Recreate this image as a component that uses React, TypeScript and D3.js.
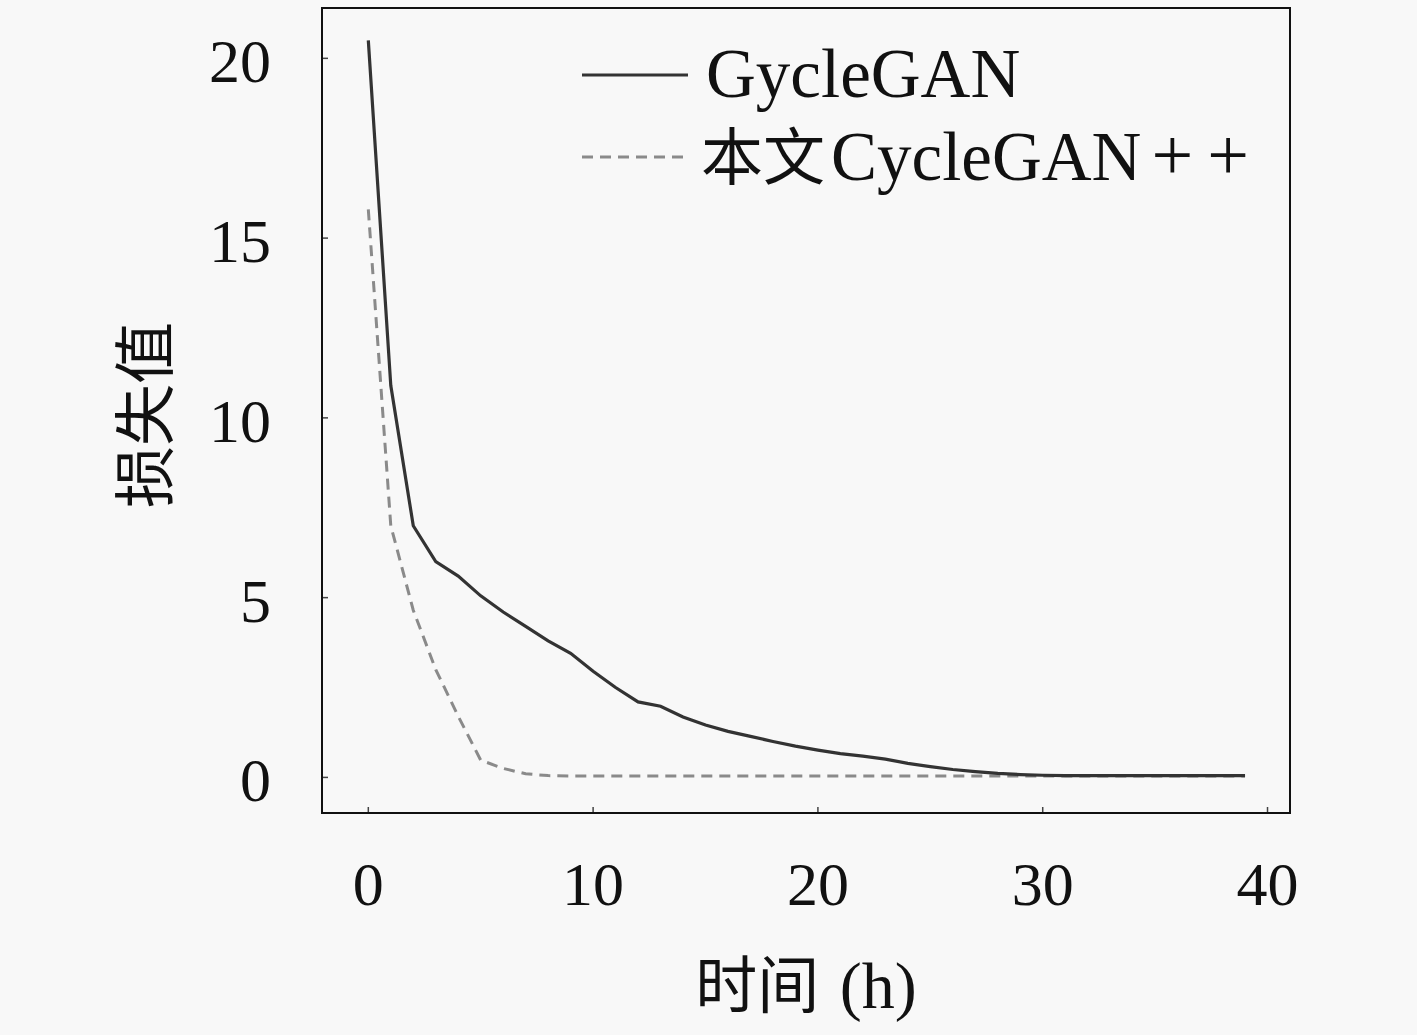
import React, { useEffect, useRef } from 'react';
import * as d3 from 'd3';

// training time (h)
const hours = [
  0, 1, 2, 3, 4, 5, 6, 7, 8, 9, 10, 11, 12, 13, 14, 15, 16, 17, 18, 19,
  20, 21, 22, 23, 24, 25, 26, 27, 28, 29, 30, 31, 32, 33, 34, 35, 36, 37, 38, 39,
];

// loss values
const cycleGanLoss = [
  20.5, 10.9, 7.0, 6.0, 5.6, 5.05, 4.6, 4.2, 3.8, 3.45,
  2.95, 2.5, 2.1, 1.98, 1.68, 1.46, 1.28, 1.14, 1.0, 0.87,
  0.76, 0.66, 0.59, 0.51, 0.39, 0.3, 0.22, 0.16, 0.11, 0.08,
  0.06, 0.05, 0.05, 0.05, 0.05, 0.05, 0.05, 0.05, 0.05, 0.05,
];

const cycleGanPlusLoss = [
  15.8, 7.0, 4.65, 3.0, 1.7, 0.48, 0.25, 0.1, 0.05, 0.04,
  0.04, 0.04, 0.04, 0.04, 0.04, 0.04, 0.04, 0.04, 0.04, 0.04,
  0.04, 0.04, 0.04, 0.04, 0.04, 0.04, 0.04, 0.04, 0.04, 0.04,
  0.04, 0.04, 0.04, 0.04, 0.04, 0.04, 0.04, 0.04, 0.04, 0.04,
];

const xTicks = [0, 10, 20, 30, 40];
const yTicks = [0, 5, 10, 15, 20];

const seriesNames = ['GycleGAN', 'CycleGAN', '++'];

const W = 1417;
const H = 1035;
const SERIF = '"Liberation Serif", "DejaVu Serif", serif';
const CJK = '"Noto Sans CJK SC", sans-serif';

const App: React.FC = () => {
  const svgRef = useRef<SVGSVGElement>(null);

  useEffect(() => {
    if (!svgRef.current) return;
    const svg = d3.select(svgRef.current);
    svg.selectAll('*').remove();

    const plot = { left: 322, right: 1290, top: 8, bottom: 813 };

    const x = d3.scaleLinear().domain([-2.06, 41]).range([plot.left, plot.right]);
    const y = d3.scaleLinear().domain([-0.99, 21.4]).range([plot.bottom, plot.top]);

    svg.append('rect')
      .attr('width', W)
      .attr('height', H)
      .attr('fill', '#f8f8f8');

    // tick marks (inward)
    xTicks.forEach(t => {
      svg.append('line')
        .attr('x1', x(t)).attr('x2', x(t))
        .attr('y1', plot.bottom).attr('y2', plot.bottom - 6)
        .attr('stroke', '#444').attr('stroke-width', 1.5);
      svg.append('text')
        .attr('x', x(t))
        .attr('y', 905)
        .attr('text-anchor', 'middle')
        .attr('font-family', SERIF)
        .attr('font-size', 62)
        .attr('fill', '#111')
        .text(t);
    });

    yTicks.forEach(v => {
      svg.append('line')
        .attr('x1', plot.left).attr('x2', plot.left + 6)
        .attr('y1', y(v)).attr('y2', y(v))
        .attr('stroke', '#444').attr('stroke-width', 1.5);
      svg.append('text')
        .attr('x', 271)
        .attr('y', y(v) + 24)
        .attr('text-anchor', 'end')
        .attr('font-family', SERIF)
        .attr('font-size', 62)
        .attr('fill', '#111')
        .text(v);
    });

    const line = d3.line<number>()
      .x((_, i) => x(hours[i]))
      .y(d => y(d));

    // proposed method (dashed), drawn first so the solid line sits on top
    svg.append('path')
      .datum(cycleGanPlusLoss)
      .attr('fill', 'none')
      .attr('stroke', '#8a8a8a')
      .attr('stroke-width', 3)
      .attr('stroke-dasharray', '11,7')
      .attr('d', line);

    svg.append('path')
      .datum(cycleGanLoss)
      .attr('fill', 'none')
      .attr('stroke', '#333')
      .attr('stroke-width', 3.2)
      .attr('d', line);

    // frame
    svg.append('rect')
      .attr('x', plot.left)
      .attr('y', plot.top)
      .attr('width', plot.right - plot.left)
      .attr('height', plot.bottom - plot.top)
      .attr('fill', 'none')
      .attr('stroke', '#111')
      .attr('stroke-width', 2);

    // legend
    const legend = svg.append('g');
    legend.append('line')
      .attr('x1', 582).attr('x2', 688)
      .attr('y1', 75).attr('y2', 75)
      .attr('stroke', '#333').attr('stroke-width', 3.2);
    legend.append('text')
      .attr('x', 706).attr('y', 97)
      .attr('font-family', SERIF)
      .attr('font-size', 69)
      .attr('fill', '#111')
      .text(seriesNames[0]);

    legend.append('line')
      .attr('x1', 582).attr('x2', 688)
      .attr('y1', 157).attr('y2', 157)
      .attr('stroke', '#8a8a8a').attr('stroke-width', 3)
      .attr('stroke-dasharray', '11,7');
    const t2 = legend.append('text')
      .attr('x', 701).attr('y', 180)
      .attr('font-size', 69)
      .attr('fill', '#111');
    t2.append('tspan').attr('font-family', CJK).attr('font-size', 62).text('本文');
    t2.append('tspan').attr('font-family', SERIF).attr('dx', 6).text(seriesNames[1]);
    t2.append('tspan')
      .attr('font-family', SERIF)
      .attr('dx', 10)
      .attr('letter-spacing', 14)
      .attr('font-size', 74)
      .text(seriesNames[2]);

    // axis titles
    const xt = svg.append('text')
      .attr('x', 806).attr('y', 1008)
      .attr('text-anchor', 'middle')
      .attr('fill', '#111')
      .attr('font-size', 66);
    xt.append('tspan').attr('font-family', CJK).attr('font-size', 62).text('时间');
    xt.append('tspan').attr('font-family', SERIF).attr('dx', 4).text(' (h)');

    svg.append('text')
      .attr('transform', `translate(168,415) rotate(-90)`)
      .attr('text-anchor', 'middle')
      .attr('font-family', CJK)
      .attr('font-size', 62)
      .attr('fill', '#111')
      .text('损失值');
  }, []);

  return (
    <svg
      ref={svgRef}
      width={W}
      height={H}
      style={{ position: 'fixed', left: 0, top: 0, display: 'block' }}
    />
  );
};

export default App;
